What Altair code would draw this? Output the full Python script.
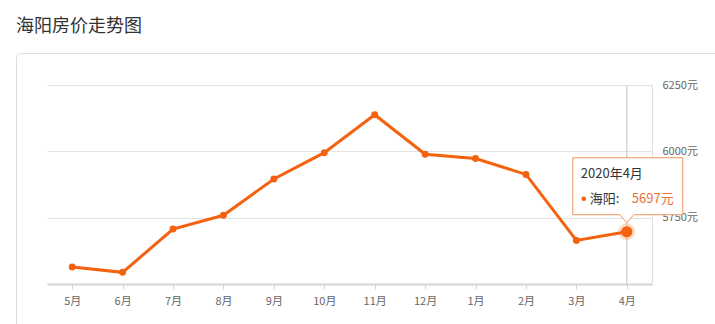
import altair as alt
import pandas as pd

# ---- data ----
months = ["5月", "6月", "7月", "8月", "9月", "10月", "11月", "12月", "1月", "2月", "3月", "4月"]
prices = [5564, 5544, 5707, 5759, 5896, 5995, 6138, 5989, 5973, 5913, 5664, 5697]
y_ticks = [5750, 6000, 6250]
y_domain = [5500, 6250]
region = "海阳"
tip_title = "2020年4月"
chart_title = "海阳房价走势图"

FONT = "Noto Sans CJK SC"
LINE = "#f4620f"
W, H = 605, 199

df = pd.DataFrame({"month": months, "price": prices})
last = df.iloc[[-1]].copy()
last["title"] = tip_title
last["region"] = region + ":"
last["label"] = last["price"].astype(str) + "元"
one = pd.DataFrame({"k": [0]})

x_enc = alt.X(
    "month:N", sort=months,
    scale=alt.Scale(type="point", padding=0.5),
    axis=alt.Axis(title=None, labelAngle=0, grid=False,
                  domainColor="#d4d4d4", domainWidth=2,
                  tickColor="#d4d4d4", tickSize=5, tickWidth=1,
                  labelColor="#666666", labelFontSize=11, labelPadding=6,
                  labelFont=FONT),
)
y_enc = alt.Y(
    "price:Q",
    scale=alt.Scale(domain=y_domain, nice=False, zero=False),
    axis=alt.Axis(title=None, orient="right", values=y_ticks,
                  labelExpr="datum.value + '元'", ticks=False, domain=False,
                  gridColor="#e2e2e2", gridWidth=1,
                  labelPadding=10, labelColor="#666666", labelFontSize=11,
                  labelFont=FONT),
)

card = alt.Chart(one).mark_rect(
    filled=False, stroke="#dcdcdc", strokeWidth=1, cornerRadius=4
).encode(x=alt.value(-30.5), x2=alt.value(720), y=alt.value(-31.5), y2=alt.value(320))

right_edge = alt.Chart(one).mark_rule(color="#dedede", strokeWidth=1).encode(
    x=alt.value(W + 0.5), y=alt.value(0), y2=alt.value(H))

line = alt.Chart(df).mark_line(color=LINE, strokeWidth=3).encode(x=x_enc, y=y_enc)
pts = alt.Chart(df).mark_circle(color=LINE, size=48, opacity=1).encode(x=x_enc, y=y_enc)

rule = alt.Chart(last).mark_rule(color="#c4c4c4", strokeWidth=1).encode(
    x=x_enc, y=alt.value(0), y2=alt.value(H))
halo = alt.Chart(last).mark_circle(color=LINE, size=290, opacity=0.22).encode(x=x_enc, y=y_enc)
big = alt.Chart(last).mark_circle(color=LINE, size=125, opacity=1).encode(x=x_enc, y=y_enc)

callout_path = "M-54,-74 L56,-74 L56,-17 L7,-17 L0,-9 L-7,-17 L-54,-17 Z"
callout = alt.Chart(last).mark_point(
    shape=callout_path, size=4, filled=True, fill="white", stroke="#f0945a",
    strokeWidth=1, opacity=1, fillOpacity=1, strokeOpacity=1
).encode(x=x_enc, y=y_enc)

t_title = alt.Chart(last).mark_text(
    align="left", baseline="middle", dx=-46, dy=-58, fontSize=13, color="#333333", font=FONT
).encode(x=x_enc, y=y_enc, text="title:N")
t_dot = alt.Chart(last).mark_circle(color=LINE, size=22, opacity=1, xOffset=-43, yOffset=-33).encode(x=x_enc, y=y_enc)
t_region = alt.Chart(last).mark_text(
    align="left", baseline="middle", dx=-37, dy=-33, fontSize=13, color="#333333", font=FONT
).encode(x=x_enc, y=y_enc, text="region:N")
t_val = alt.Chart(last).mark_text(
    align="left", baseline="middle", dx=5, dy=-33, fontSize=13, color="#e8703a", font=FONT
).encode(x=x_enc, y=y_enc, text="label:N")

chart = alt.layer(
    card, right_edge, rule, line, pts, halo, big, callout, t_title, t_dot, t_region, t_val
).properties(
    width=W, height=H,
    view=alt.ViewBackground(stroke="transparent", strokeWidth=0),
    title=alt.TitleParams(chart_title, anchor="start", frame="group", dx=-31, offset=17,
                          fontSize=18, font=FONT, fontWeight="normal", color="#333333"),
    autosize=alt.AutoSizeParams(type="none"),
    padding={"left": 47, "top": 85, "right": 63, "bottom": 40},
).configure(font=FONT).configure_view(stroke="transparent", strokeWidth=0)

chart.save("out.html", embed_options={"renderer": "svg", "actions": False})
